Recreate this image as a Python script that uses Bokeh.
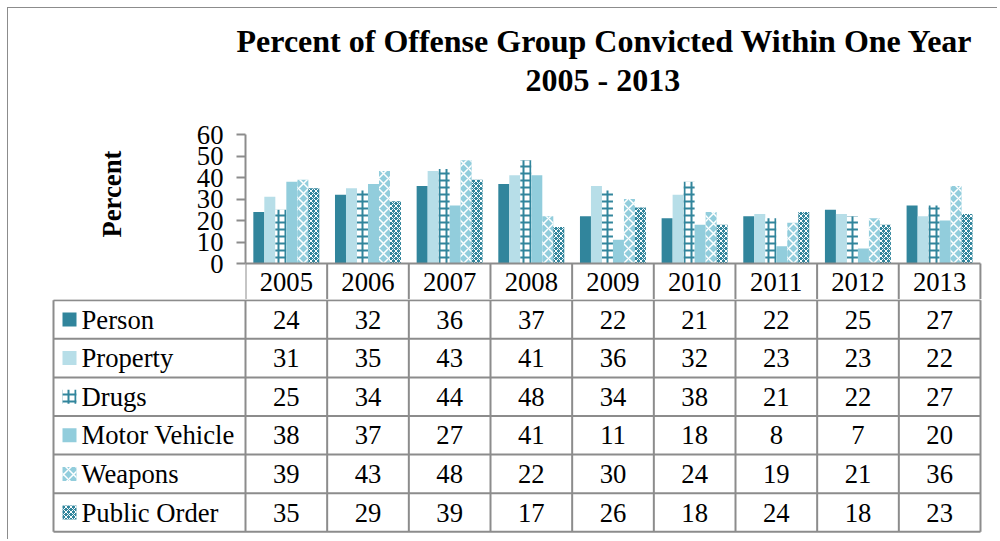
from bokeh.plotting import figure
from bokeh.models import FixedTicker, Title, Range1d
from bokeh.embed import file_html
from bokeh.resources import INLINE
from bokeh.core.properties import value

years = ["2005", "2006", "2007", "2008", "2009", "2010", "2011", "2012", "2013"]
series_names = ["Person", "Property", "Drugs", "Motor Vehicle", "Weapons", "Public Order"]
person = [24, 32, 36, 37, 22, 21, 22, 25, 27]
property_ = [31, 35, 43, 41, 36, 32, 23, 23, 22]
drugs = [25, 34, 44, 48, 34, 38, 21, 22, 27]
motor_vehicle = [38, 37, 27, 41, 11, 18, 8, 7, 20]
weapons = [39, 43, 48, 22, 30, 24, 19, 21, 36]
public_order = [35, 29, 39, 17, 26, 18, 24, 18, 23]
y_ticks = [0, 10, 20, 30, 40, 50, 60]

series_values = [person, property_, drugs, motor_vehicle, weapons, public_order]

TEAL = "#31859C"
LIGHT = "#B7DEE8"
MID = "#92CDDC"
GRAY = "#8c8c8c"
SERIF = "Liberation Serif"
FS = "26.67px"

styles = [
    dict(fill_color=TEAL),
    dict(fill_color=LIGHT),
    dict(fill_color="white", hatch_pattern="+", hatch_color=TEAL, hatch_scale=7, hatch_weight=2),
    dict(fill_color=MID),
    dict(fill_color=MID, hatch_pattern="x", hatch_color="white", hatch_scale=10, hatch_weight=1.5),
    dict(fill_color=TEAL, hatch_pattern="x", hatch_color="white", hatch_scale=5, hatch_weight=1),
]

n = len(years)
PXU = 81.667          # pixels per category
bw = 11.0 / PXU       # bar width in category units
PPU = 2.15            # pixels per percent
HEADER = 37.0         # header row height in px
ymin = -HEADER / PPU

# ---------------- top: bar chart + header row ----------------
p = figure(width=990, height=292, x_range=Range1d(0, 9.05), y_range=Range1d(ymin, 60),
           output_backend="svg", toolbar_location=None, title=None, x_axis_location=None,
           min_border_left=237, min_border_right=14, min_border_top=126, min_border_bottom=0,
           styles={"border-left": "1px solid " + GRAY, "border-top": "1px solid " + GRAY,
                   "margin-left": "7px", "margin-top": "7px"})
p.xgrid.visible = False
p.ygrid.visible = False
p.outline_line_color = None

for k, (vals, st) in enumerate(zip(series_values, styles)):
    xs = [i + 0.5 + (k - 2.5) * bw for i in range(n)]
    p.vbar(x=xs, top=vals, bottom=0, width=bw, line_color=None, **st)

# category axis line and header row separators
p.segment(x0=[0], x1=[n], y0=[0], y1=[0], line_color=GRAY, line_width=2)
p.segment(x0=list(range(n + 1)), x1=list(range(n + 1)), y0=[0] * (n + 1), y1=[ymin] * (n + 1),
          line_color=GRAY, line_width=2)
p.text(x=[i + 0.5 for i in range(n)], y=[ymin / 2] * n, text=years,
       text_align="center", text_baseline="middle",
       text_font=value(SERIF), text_font_size=FS, text_color="black")

ya = p.yaxis[0]
ya.ticker = FixedTicker(ticks=y_ticks)
ya.bounds = (0, 60)
ya.minor_tick_line_color = None
ya.major_tick_out = 9
ya.major_tick_in = 0
ya.major_tick_line_color = GRAY
ya.major_tick_line_width = 2
ya.axis_line_color = GRAY
ya.axis_line_width = 2
ya.major_label_text_font = SERIF
ya.major_label_text_font_size = FS
ya.major_label_text_color = "black"
ya.major_label_standoff = 13

# y-axis title (left side, anchored so that it sits beside the 0-60 part of the axis)
p.add_layout(Title(text="Percent", align="left", offset=63, standoff=134,
                   text_font=SERIF, text_font_size=FS, text_font_style="bold",
                   text_color="black"), "left")

p.add_layout(Title(text="2005 - 2013", align="left", offset=280, standoff=74,
                   text_font=SERIF, text_font_size="32px", text_font_style="bold",
                   text_color="black"), "above")
p.add_layout(Title(text="Percent of Offense Group Convicted Within One Year", align="left",
                   offset=-9, standoff=-72,
                   text_font=SERIF, text_font_size="32px", text_font_style="bold",
                   text_color="black"), "above")

# ---------------- bottom: data table ----------------
def dx(px):
    return (px - 245) / PXU

RH = 38.6
def dy(px):
    return 6 - (px - 300.7) / RH

t = figure(width=990, height=240, x_range=Range1d(dx(8), dx(998)), y_range=Range1d(dy(540), dy(300)),
           output_backend="svg", toolbar_location=None, title=None,
           x_axis_type=None, y_axis_type=None,
           min_border_left=0, min_border_right=0, min_border_top=0, min_border_bottom=0,
           styles={"border-left": "1px solid " + GRAY, "margin-left": "7px"})
t.xgrid.visible = False
t.ygrid.visible = False
t.outline_line_color = None

xl = dx(53)
nrows = len(series_names)
t.segment(x0=[xl] * (nrows + 1), x1=[n] * (nrows + 1), y0=list(range(nrows + 1)), y1=list(range(nrows + 1)),
          line_color=GRAY, line_width=2)
vx = [xl] + list(range(n + 1))
t.segment(x0=vx, x1=vx, y0=[0] * len(vx), y1=[nrows] * len(vx), line_color=GRAY, line_width=2)

for r, (name, vals, st) in enumerate(zip(series_names, series_values, styles)):
    yc = nrows - r - 0.5
    t.rect(x=[dx(69)], y=[yc], width=14, height=14, width_units="screen", height_units="screen",
           line_color=None, **st)
    t.text(x=[dx(81)], y=[yc], text=[name], text_align="left", text_baseline="middle",
           text_font=value(SERIF), text_font_size=FS, text_color="black")
    t.text(x=[i + 0.5 for i in range(n)], y=[yc] * n, text=[str(v) for v in vals],
           text_align="center", text_baseline="middle",
           text_font=value(SERIF), text_font_size=FS, text_color="black")

open("out.html", "w").write(file_html([p, t], INLINE))
